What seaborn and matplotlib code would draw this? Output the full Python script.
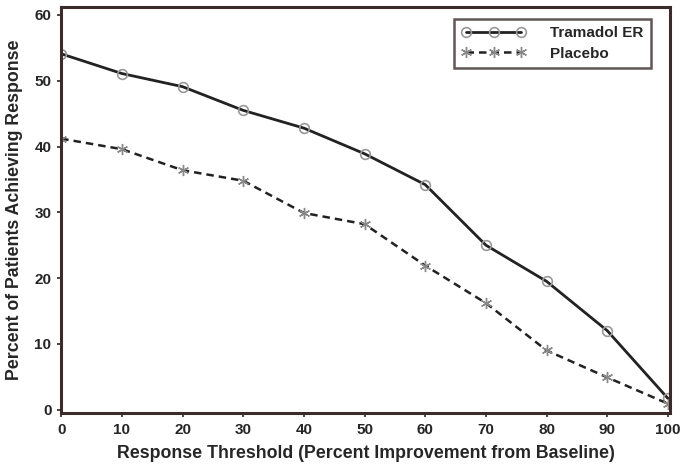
import numpy as np
import pandas as pd
import seaborn as sns
import matplotlib.pyplot as plt

sns.set_theme(style="white")
plt.rcParams['font.family'] = ['Liberation Sans', 'DejaVu Sans']
plt.rcParams['font.weight'] = 'bold'

thresholds = [0, 10, 20, 30, 40, 50, 60, 70, 80, 90, 100]
tramadol = [54.1, 51.1, 49.1, 45.5, 42.8, 38.9, 34.2, 25.0, 19.5, 12.0, 1.7]
placebo = [41.2, 39.6, 36.4, 34.8, 29.9, 28.2, 21.9, 16.2, 9.0, 4.9, 0.9]

df = pd.DataFrame({"threshold": thresholds, "Tramadol ER": tramadol, "Placebo": placebo})

frame_col = "#3b2b2b"
fig, ax = plt.subplots(figsize=(6.8, 4.73), dpi=100)

sns.lineplot(data=df, x="threshold", y="Tramadol ER", ax=ax, color="#222222", lw=2,
             marker="o", markersize=7, markerfacecolor="none", markeredgecolor="#999999",
             markeredgewidth=1.2, label="Tramadol ER")
sns.lineplot(data=df, x="threshold", y="Placebo", ax=ax, color="#222222", lw=1.8,
             linestyle=(0, (3, 2)), marker=(6, 2, 0), markersize=8, markeredgecolor="#888888",
             markeredgewidth=1.0, label="Placebo")

ax.set_xlim(0, 100.3)
ax.set_ylim(-0.5, 61.2)
ax.set_xticks(np.arange(0, 101, 10))
ax.set_yticks(np.arange(0, 61, 10))
ax.tick_params(axis="both", labelsize=11, length=3, color=frame_col, direction="out",
               bottom=True, left=True, pad=4)
for lab in ax.get_xticklabels() + ax.get_yticklabels():
    lab.set_fontweight("bold")

for s in ax.spines.values():
    s.set_color(frame_col)
    s.set_linewidth(2.2)

ax.set_xlabel("Response Threshold (Percent Improvement from Baseline)", fontsize=12.8,
              fontweight="bold", labelpad=6)
ax.set_ylabel("Percent of Patients Achieving Response", fontsize=12.8,
              fontweight="bold", labelpad=8)

leg = ax.legend(loc="upper right", frameon=True, fancybox=False, fontsize=11,
                handlelength=4.2, numpoints=3, borderpad=0.5, labelspacing=0.4,
                handletextpad=1.6, bbox_to_anchor=(0.982, 0.99))
leg.get_frame().set_edgecolor(frame_col)
leg.get_frame().set_linewidth(1.8)
for t in leg.get_texts():
    t.set_fontweight("bold")

fig.subplots_adjust(left=0.09, right=0.985, top=0.985, bottom=0.127)
fig.savefig("out.png", dpi=100)
